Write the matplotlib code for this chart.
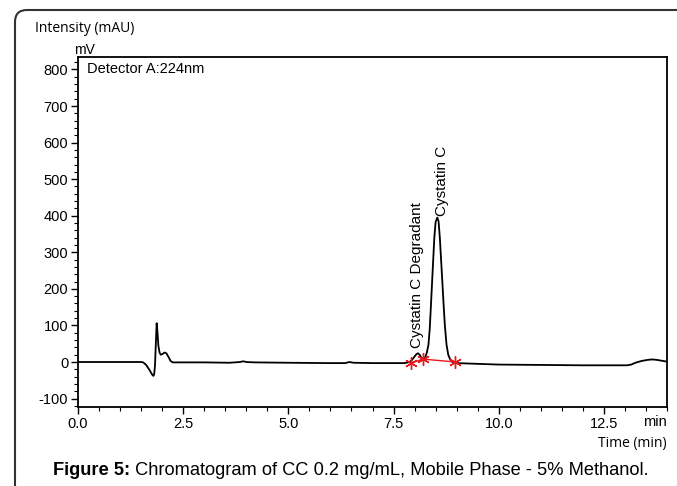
import matplotlib
matplotlib.use("Agg")
import matplotlib.pyplot as plt
from matplotlib.path import Path
from matplotlib.patches import PathPatch
from matplotlib.ticker import MultipleLocator, FormatStrFormatter

plt.rcParams["axes.unicode_minus"] = False

# ---- data ----
time_min = [0.0, 1.0, 1.50, 1.55, 1.62, 1.70, 1.76, 1.79, 1.81, 1.83, 1.85, 1.87,
            1.89, 1.91, 1.94, 1.97, 2.01, 2.06, 2.10, 2.15, 2.20, 2.25, 2.40, 3.0,
            3.60, 3.85, 3.93, 4.00, 4.20, 5.0, 6.0, 6.35, 6.45, 6.55, 7.0, 7.5,
            7.75, 7.85, 7.92, 7.98, 8.04, 8.08, 8.12, 8.16, 8.20, 8.25, 8.29, 8.33,
            8.36, 8.39, 8.43, 8.47, 8.50, 8.54, 8.57, 8.60, 8.645, 8.69, 8.72, 8.76,
            8.80, 8.85, 8.90, 9.00, 9.5, 10.0, 11.0, 12.0, 12.8, 13.05, 13.15, 13.25,
            13.40, 13.55, 13.65, 13.75, 13.90, 14.0]
intensity = [0, 0, 0, -1, -8, -22, -34, -38, -34, -10, 50, 106,
             80, 45, 25, 20, 22, 26, 24, 14, 3, -1, -1, -1,
             -2, 0, 2, 0, -1, -2, -3, -3, 0, -2, -3, -3,
             -3, -1, 3, 12, 21, 24, 20, 12, 9, 12, 25, 47,
             90, 157, 250, 341, 383, 395, 385, 341, 250, 157, 100, 47,
             20, 6, 0, -3, -5, -7, -8, -9, -9, -9, -7, -2,
             3, 6, 7, 6, 3, 1]

# integration markers (red)
mark_t = [7.91, 8.20, 8.97]
mark_y = [-3, 8, 0]

peak_labels = ["Cystatin C Degradant", "Cystatin C"]
peak_label_t = [8.05, 8.66]
peak_label_y = [38, 400]

x_ticks = [0.0, 2.5, 5.0, 7.5, 10.0, 12.5]
y_ticks = [-100, 0, 100, 200, 300, 400, 500, 600, 700, 800]

caption_bold = "Figure 5:"
caption_rest = " Chromatogram of CC 0.2 mg/mL, Mobile Phase - 5% Methanol."

W, H = 677, 486
fig = plt.figure(figsize=(W / 100, H / 100), dpi=100)
ax = fig.add_axes([78 / W, 1 - 407 / H, (667 - 78) / W, (407 - 57) / H])

sans = ["Liberation Sans", "DejaVu Sans"]
human = ["Open Sans", "DejaVu Sans"]

ax.plot(time_min, intensity, color="black", lw=1.3, zorder=3)
ax.plot(mark_t, mark_y, color="#e8181e", lw=1.0, marker=(6, 2, 0), ms=9,
        mew=1.0, zorder=4)

for lab, t, y in zip(peak_labels, peak_label_t, peak_label_y):
    ax.text(t, y, lab, rotation=90, ha="center", va="bottom",
            fontsize=11, family=sans, zorder=5)

ax.text(0.015, 0.985, "Detector A:224nm", transform=ax.transAxes,
        ha="left", va="top", fontsize=10.5, family=sans)

ax.set_xlim(0, 14.0)
ax.set_ylim(-123, 834)
ax.set_xticks(x_ticks)
ax.set_yticks(y_ticks)
ax.xaxis.set_major_formatter(FormatStrFormatter("%.1f"))
ax.xaxis.set_minor_locator(MultipleLocator(0.5))
ax.yaxis.set_minor_locator(MultipleLocator(20))
ax.tick_params(which="major", direction="out", length=5, width=1.0,
               labelsize=10.5, pad=2)
ax.tick_params(which="minor", direction="out", length=3, width=0.8)
for lbl in ax.get_xticklabels() + ax.get_yticklabels():
    lbl.set_family(sans)
for s in ax.spines.values():
    s.set_linewidth(1.3)
    s.set_color("black")

# text outside axes
fig.text(667 / W, 1 - 422 / H, "min", ha="right", va="center",
         fontsize=10.5, family=sans)
fig.text(84 / W, 1 - 50 / H, "mV", ha="center", va="center",
         fontsize=10, family=sans)
fig.text(35 / W, 1 - 28 / H, "Intensity (mAU)", ha="left", va="center",
         fontsize=10, family=human)
fig.text(667 / W, 1 - 444 / H, "Time (min)", ha="right", va="center",
         fontsize=10, family=human)

# caption: bold part + regular part, fitted to span x=53..648 px
renderer = fig.canvas.get_renderer()
fs = 12.0
t1 = fig.text(53 / W, 1 - 470 / H, caption_bold, ha="left", va="center",
              fontsize=fs, family=sans, weight="bold")
t2 = fig.text(0, 1 - 470 / H, caption_rest, ha="left", va="center",
              fontsize=fs, family=sans)
w_total = t1.get_window_extent(renderer).width + t2.get_window_extent(renderer).width
fs = fs * (648 - 53) / w_total
t1.set_fontsize(fs)
t2.set_fontsize(fs)
w1 = t1.get_window_extent(renderer).width
t2.set_x((53 + w1) / W)

# rounded frame (left + top)
y0, r = 1 - 10 / H, 12
verts = [(15 / W, 0.0), (15 / W, 1 - (10 + r) / H), (15 / W, y0),
         ((15 + r) / W, y0), (1.0, y0)]
codes = [Path.MOVETO, Path.LINETO, Path.CURVE3, Path.CURVE3, Path.LINETO]
fig.patches.append(PathPatch(Path(verts, codes), transform=fig.transFigure,
                             fill=False, lw=1.5, edgecolor="#333333"))

fig.savefig("out.png", dpi=100)
